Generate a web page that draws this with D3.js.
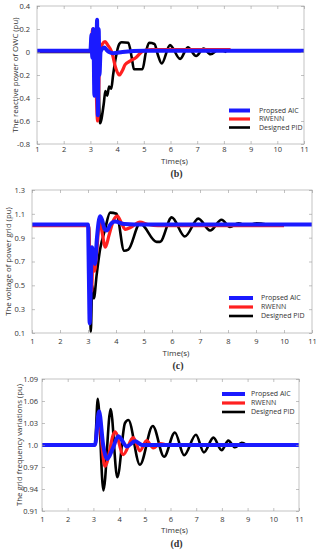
<!DOCTYPE html>
<html>
<head>
<meta charset="utf-8">
<script src="https://cdn.jsdelivr.net/npm/d3@7/dist/d3.min.js"></script>
<style>
html,body{margin:0;padding:0;background:#fff;}
svg{display:block;}
text{font-family:"Open Sans","Noto Sans",sans-serif;fill:#333;}
</style>
</head>
<body>
<svg id="chart" width="318" height="550"></svg>
<script>
// ---------- data ----------
const seriesNames = ["Propsed AIC", "RWENN", "Designed PID"];
const timeTicks = [1,2,3,4,5,6,7,8,9,10,11];

// (b) reactive power of OWC
const bTicks = [-0.8,-0.6,-0.4,-0.2,0,0.2,0.4];
const bTickLabels = ["-0.8","-0.6","-0.4","-0.2","0","0.2","0.4"];
const bAIC = [[1,0.01],[3.0,0.01],[3.04,0.15],[3.07,-0.05],[3.11,0.2],[3.15,-0.38],[3.19,0.18],[3.22,-0.15],[3.25,0.28],[3.28,-0.55],[3.31,0.2],[3.34,-0.2],[3.38,0.0],[3.45,0.03],[3.52,0.04],[3.6,0.02],[3.7,0.0],[3.85,-0.01],[4.2,0.0],[5,0.01],[11,0.01]];
const bRWENN = [[1,0.01],[3.03,0.01],[3.08,0.2],[3.14,0.17],[3.2,-0.2],[3.27,-0.6],[3.36,0.0],[3.45,0.07],[3.55,0.09],[3.65,0.06],[3.8,0.0],[3.95,-0.14],[4.08,-0.2],[4.2,-0.16],[4.3,-0.11],[4.48,-0.08],[4.7,-0.05],[4.98,0.01],[5.3,0.02],[8.25,0.02]];
const bPID = [[1,0.0],[3.15,0.0],[3.25,0.28],[3.36,-0.62],[3.5,-0.45],[3.56,-0.34],[3.63,-0.38],[3.7,-0.3],[3.78,-0.32],[3.85,-0.2],[3.95,-0.05],[4.08,0.07],[4.17,0.085],[4.42,0.08],[4.55,-0.05],[4.63,-0.15],[4.95,-0.15],[5.08,0.0],[5.2,0.08],[5.4,0.07],[5.52,-0.02],[5.67,-0.1],[5.98,0.06],[6.36,-0.06],[6.65,0.04],[6.96,-0.035],[7.24,0.03],[7.5,-0.02],[7.8,0.02],[8.1,0.0]];

// (c) voltage of power grid
const cTicks = [0.1,0.3,0.5,0.7,0.9,1.1,1.3];
const cTickLabels = ["0.1","0.3","0.5","0.7","0.9","1.1","1.3"];
const cAIC = [[1,1.01],[3.0,1.01],[3.03,0.6],[3.06,0.18],[3.1,0.5],[3.14,0.82],[3.2,0.74],[3.25,0.68],[3.32,0.9],[3.43,1.08],[3.5,1.05],[3.6,0.97],[3.67,0.96],[3.8,1.01],[3.96,1.035],[4.3,1.015],[5,1.01],[11,1.01]];
const cRWENN = [[1,1.0],[3.02,1.0],[3.08,0.6],[3.13,0.45],[3.18,0.8],[3.23,0.62],[3.3,0.75],[3.42,1.05],[3.5,0.95],[3.62,0.82],[3.75,0.92],[3.9,1.04],[4.05,1.08],[4.2,1.02],[4.33,0.97],[4.55,0.99],[4.85,1.03],[5.15,1.01],[5.5,1.0],[10,1.0]];
const cPID = [[1,1.0],[3.03,1.0],[3.1,0.11],[3.15,0.5],[3.21,0.39],[3.31,0.59],[3.43,0.8],[3.6,0.96],[3.79,1.11],[4.02,1.1],[4.29,0.79],[4.44,0.8],[4.86,1.02],[5.45,0.865],[5.57,0.865],[5.99,1.07],[6.46,0.91],[6.94,1.06],[7.36,0.96],[7.77,1.05],[8.07,0.99],[8.37,1.02],[8.67,1.0],[9.02,1.02],[9.4,1.01]];

// (d) grid frequency variations
const dTicks = [0.91,0.94,0.97,1.0,1.03,1.06,1.09];
const dTickLabels = ["0.91","0.94","0.97","1.0","1.03","1.06","1.09"];
const dAIC = [[1,1.0],[3.06,1.0],[3.22,1.046],[3.38,1.0],[3.54,0.981],[3.75,0.995],[3.97,1.012],[4.3,0.998],[4.62,1.005],[4.9,1.0],[11,1.0]];
const dRWENN = [[1,1.0],[3.06,1.0],[3.2,1.035],[3.45,0.971],[3.84,1.018],[4.16,0.987],[4.55,1.01],[4.81,0.992],[5.07,1.006],[5.33,0.996],[5.6,1.002],[5.9,1.0],[9.5,1.0]];
const dPID = [[1,1.0],[3.06,1.0],[3.17,1.063],[3.39,0.938],[3.67,1.049],[3.93,0.956],[4.23,1.03],[4.36,1.034],[4.81,0.973],[5.31,1.026],[5.75,0.984],[6.17,1.017],[6.53,0.986],[6.99,1.014],[7.3,0.99],[7.67,1.01],[7.99,0.993],[8.25,1.006],[8.51,0.997],[8.77,1.003],[8.96,1.0]];

// ---------- drawing ----------
const colors = ["#1a1aff", "#ff2020", "#000000"];
const widths = [4, 3.2, 2.6];
const svg = d3.select("#chart");

const panels = [
  {left:37, right:304, top:6, bottom:144, domain:[-0.8,0.4], ticks:bTicks, labels:bTickLabels,
   series:[bAIC,bRWENN,bPID], ytitle:"The reactive power of OWC (pu)", ytx:15,
   xlabY:152, timeY:164, tag:"(b)", tagY:177, leg:{x1:229,x2:250,tx:259,y:[110.5,119,127.5]}, lblGap:7},
  {left:32, right:312, top:190, bottom:333, domain:[0.1,1.3], ticks:cTicks, labels:cTickLabels,
   series:[cAIC,cRWENN,cPID], ytitle:"The voltage of power grid (pu)", ytx:8,
   xlabY:344, timeY:356, tag:"(c)", tagY:369, leg:{x1:229,x2:253,tx:261,y:[298,307,316]}, lblGap:7},
  {left:42, right:299, top:379, bottom:511, domain:[0.91,1.09], ticks:dTicks, labels:dTickLabels,
   series:[dAIC,dRWENN,dPID], ytitle:"The grid frequency variations (pu)", ytx:19,
   xlabY:522, timeY:532.5, tag:"(d)", tagY:547, leg:{x1:222,x2:245,tx:251,y:[394,403,412]}, lblGap:4}
];

panels.forEach(p => {
  const g = svg.append("g");
  const x = d3.scaleLinear().domain([1,11]).range([p.left,p.right]);
  const y = d3.scaleLinear().domain(p.domain).range([p.bottom,p.top]);

  const cid = "clip" + p.top;
  svg.append("clipPath").attr("id",cid).append("rect")
    .attr("x",p.left).attr("y",p.top).attr("width",p.right-p.left).attr("height",p.bottom-p.top);

  const line = d3.line().x(d=>x(d[0])).y(d=>y(d[1])).curve(d3.curveMonotoneX);
  [2,1,0].forEach(i => {
    g.append("path").datum(p.series[i]).attr("clip-path",`url(#${cid})`)
      .attr("d",line).attr("fill","none").attr("stroke",colors[i])
      .attr("stroke-width",widths[i]).attr("stroke-linejoin","round");
  });

  g.append("rect").attr("x",p.left).attr("y",p.top).attr("width",p.right-p.left).attr("height",p.bottom-p.top)
    .attr("fill","none").attr("stroke","#b5b5b5").attr("stroke-width",0.8);

  const xb = d3.axisBottom(x).tickValues(timeTicks).tickSize(-3).tickFormat(d3.format("d")).tickPadding(0);
  const gx = g.append("g").attr("transform",`translate(0,${p.bottom})`).call(xb);
  gx.select(".domain").remove();
  gx.selectAll("line").attr("stroke","#999").attr("stroke-width",0.6);
  gx.selectAll("text").attr("y",p.xlabY-p.bottom).attr("dy",null)
    .style("font-size","7.5px").style("font-family","'Open Sans',sans-serif").attr("fill","#333");

  const xt = d3.axisTop(x).tickValues(timeTicks).tickSize(-3).tickFormat("");
  const gxt = g.append("g").attr("transform",`translate(0,${p.top})`).call(xt);
  gxt.select(".domain").remove();
  gxt.selectAll("line").attr("stroke","#999").attr("stroke-width",0.6);

  const yl = d3.axisLeft(y).tickValues(p.ticks).tickSize(-3).tickPadding(p.lblGap-3)
    .tickFormat((d,i)=>p.labels[i]);
  const gy = g.append("g").attr("transform",`translate(${p.left},0)`).call(yl);
  gy.select(".domain").remove();
  gy.selectAll("line").attr("stroke","#999").attr("stroke-width",0.6);
  gy.selectAll("text").attr("x",-p.lblGap).style("font-size","7.5px")
    .style("font-family","'Open Sans',sans-serif").attr("fill","#333");

  const yr = d3.axisRight(y).tickValues(p.ticks).tickSize(-3).tickFormat("");
  const gyr = g.append("g").attr("transform",`translate(${p.right},0)`).call(yr);
  gyr.select(".domain").remove();
  gyr.selectAll("line").attr("stroke","#999").attr("stroke-width",0.6);

  g.append("text").attr("x",(p.left+p.right)/2+4).attr("y",p.timeY).attr("text-anchor","middle")
    .style("font-size","8px").text("Time(s)");
  g.append("text").attr("transform",`translate(${p.ytx},${(p.top+p.bottom)/2}) rotate(-90)`)
    .attr("text-anchor","middle").attr("dy","0.35em").style("font-size","7.8px").text(p.ytitle);
  g.append("text").attr("x",(p.left+p.right)/2+6).attr("y",p.tagY).attr("text-anchor","middle")
    .style("font-family","'Liberation Serif',serif").style("font-weight","bold").style("font-size","10px")
    .attr("fill","#111").text(p.tag);

  seriesNames.forEach((n,i) => {
    g.append("line").attr("x1",p.leg.x1).attr("x2",p.leg.x2).attr("y1",p.leg.y[i]).attr("y2",p.leg.y[i])
      .attr("stroke",colors[i]).attr("stroke-width",widths[i]);
    g.append("text").attr("x",p.leg.tx).attr("y",p.leg.y[i]).attr("dy","0.35em")
      .style("font-size","7px").text(n);
  });
});
</script>
</body>
</html>
